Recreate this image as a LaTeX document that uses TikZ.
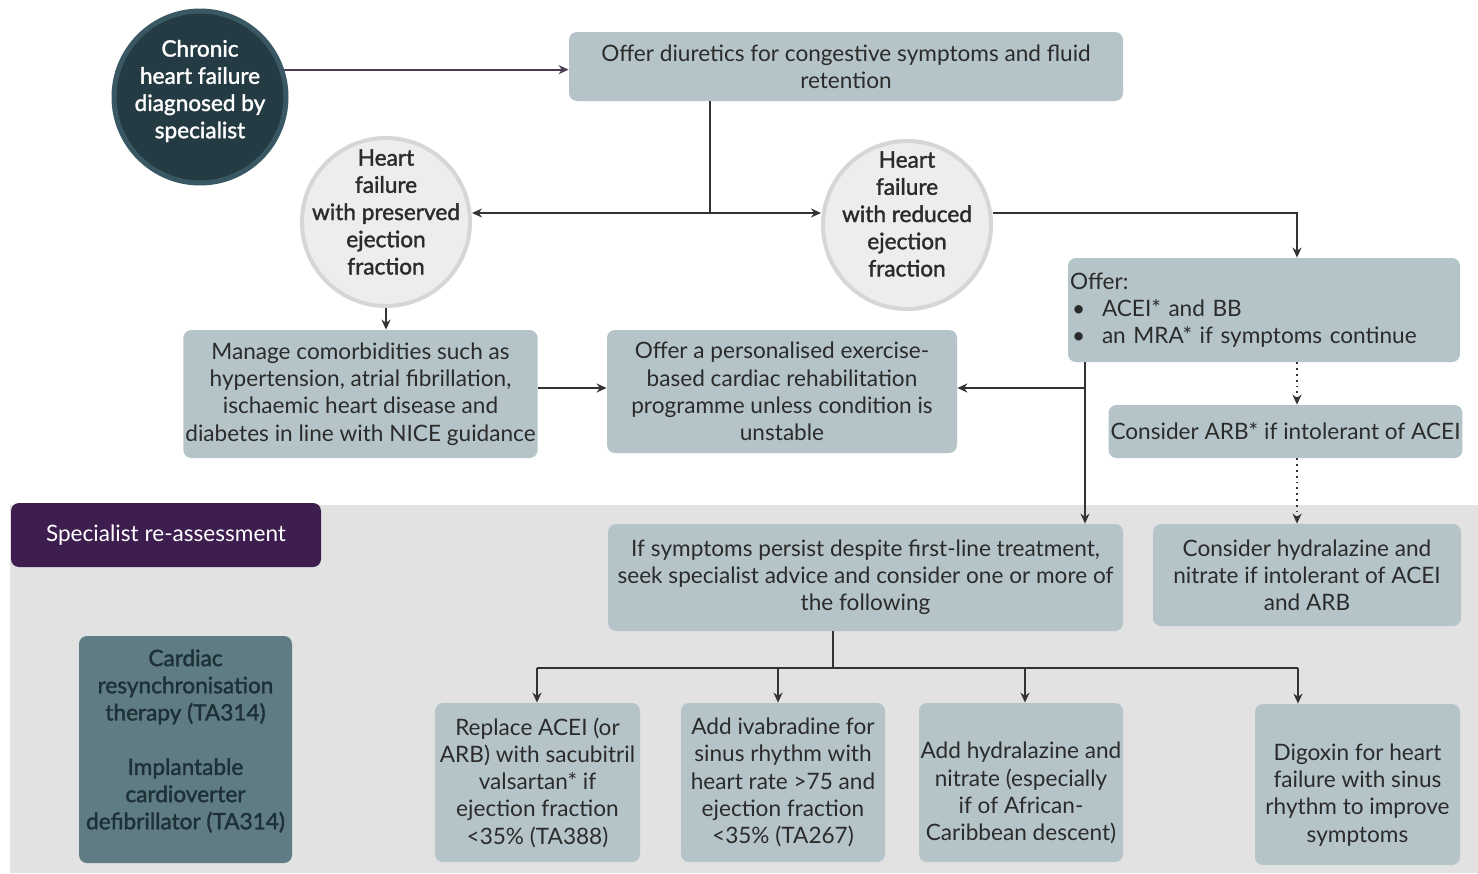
\documentclass[tikz,border=0pt]{standalone}
\usepackage{fontspec}
\setmainfont{Lato}
\newfontfamily\semib[FakeBold=1.6]{Lato}
\usetikzlibrary{arrows.meta}
\definecolor{boxfill}{HTML}{B5C4C9}
\definecolor{txt}{HTML}{2B2B2B}
\definecolor{linec}{HTML}{333333}
\definecolor{darkc}{HTML}{253B44}
\definecolor{darkb}{HTML}{3A5863}
\definecolor{lightc}{HTML}{EDEDED}
\definecolor{lightb}{HTML}{D6D6D6}
\definecolor{purp}{HTML}{3D1E4F}
\definecolor{bandc}{HTML}{E2E2E2}
\definecolor{tealbox}{HTML}{5F7C84}
\definecolor{tealtxt}{HTML}{1D3036}
\definecolor{purpline}{HTML}{4A3C57}
\tikzset{
  box/.style={rectangle, rounded corners=4pt, fill=boxfill, text=txt, align=center, inner sep=1pt,
    font=\fontsize{11.3}{13.6}\selectfont},
  plain/.style={align=center, inner sep=0pt, font=\fontsize{11.3}{13.6}\selectfont},
  circd/.style={circle, fill=darkc, draw=darkb, line width=2.5pt, minimum size=86pt, inner sep=0pt},
  circl/.style={circle, fill=lightc, draw=lightb, line width=2pt, minimum size=84pt, inner sep=0pt},
  ctext/.style={plain, font=\fontsize{11.3}{13.6}\semib},
  conn/.style={draw=linec, line width=0.9pt},
  arr/.style={conn, -{Stealth[length=5pt,width=4.5pt]}},
  darr/.style={arr, dotted},
}
\begin{document}
\begin{tikzpicture}[x=0.5pt,y=-0.5pt]
\useasboundingbox (0,0) rectangle (1478,873);
\fill[white] (0,0) rectangle (1478,873);
\fill[bandc] (10,505) rectangle (1478,873);

% circles
\node[circd] (chr) at (200,97) {};
\node[ctext, text=white] (chrt) at (200,91) {Chronic\\heart failure\\diagnosed by\\specialist};
\node[circl] (hfp) at (386,222) {};
\node[ctext, text=txt] (hfpt) at (386,212) {Heart\\failure\\with preserved\\ejection\\fraction};
\node[circl] (hfr) at (907,225) {};
\node[ctext, text=txt] (hfrt) at (907,214) {Heart\\failure\\with reduced\\ejection\\fraction};

% boxes
\node[box, minimum width=277pt, minimum height=34.5pt] (dbox) at (846,66.5)
  {Offer diuretics for congestive symptoms and fluid\\retention};
\node[box, minimum width=196pt, minimum height=52pt, text width=194pt, align=left] (offer) at (1264,310)
  {Offer:\\\makebox[16pt][l]{\hspace{1pt}\textbullet}ACEI* and BB\\\makebox[16pt][l]{\hspace{1pt}\textbullet}an MRA* if symptoms continue};
\node[box, minimum width=174.5pt, minimum height=26.5pt] (arb) at (1285.5,431.5)
  {Consider ARB* if intolerant of ACEI};
\node[box, minimum width=154pt, minimum height=51pt] (hyd) at (1307,575)
  {Consider hydralazine and\\nitrate if intolerant of ACEI\\and ARB};
\node[box, minimum width=176.5pt, minimum height=64pt] (man) at (360.5,394)
  {Manage comorbidities such as\\hypertension, atrial fibrillation,\\ischaemic heart disease and\\diabetes in line with NICE guidance};
\node[box, minimum width=175pt, minimum height=61.5pt] (ex) at (782,391.5)
  {Offer a personalised exercise-\\based cardiac rehabilitation\\programme unless condition is\\unstable};
\node[box, minimum width=257.5pt, minimum height=53.5pt] (ifs) at (865.5,577.5)
  {If symptoms persist despite first-line treatment,\\seek specialist advice and consider one or more of\\the following};
\node[box, minimum width=102.5pt, minimum height=79.5pt] (rep) at (537.5,782.5)
  {Replace ACEI (or\\ARB) with sacubitril\\valsartan* if\\ejection fraction\\<35\% (TA388)};
\node[box, minimum width=102pt, minimum height=79.5pt] (iva) at (783,782.5)
  {Add ivabradine for\\sinus rhythm with\\heart rate >75 and\\ejection fraction\\<35\% (TA267)};
\node[box, minimum width=102pt, minimum height=79.5pt] (hni) at (1021,782.5) {};
\node[plain, text=txt] (hnit) at (1021,793)
  {Add hydralazine and\\nitrate (especially\\if of African-\\Caribbean descent)};
\node[box, minimum width=102.5pt, minimum height=80.5pt] (dig) at (1357.5,784.5) {};
\node[plain, text=txt] (digt) at (1357.5,795)
  {Digoxin for heart\\failure with sinus\\rhythm to improve\\symptoms};
\node[box, fill=tealbox, minimum width=106.5pt, minimum height=113.5pt] (crt) at (185.5,749.5) {};
\node[ctext, text=tealtxt] (crtt) at (185.5,741)
  {Cardiac\\resynchronisation\\therapy (TA314)\\[13.6pt]Implantable\\cardioverter\\defibrillator (TA314)};
\node[box, fill=purp, text=white, minimum width=155pt, minimum height=32pt] (spec) at (166,535)
  {Specialist re-assessment};

% coordinates
\coordinate (j1) at (710,213);
\coordinate (c2) at (1297,213);
\coordinate (c3) at (1085,388);
\coordinate (c4) at (833,668);
\coordinate (a1) at (537,668);
\coordinate (a2) at (778,668);
\coordinate (a3) at (1025,668);
\coordinate (a4) at (1298,668);

% connectors
\draw[arr, draw=purpline] (chr.18) -- (chr.18 -| dbox.west);
\draw[conn] (dbox.south -| j1) -- (j1);
\draw[arr] (j1) -- (j1 -| hfp.east);
\draw[arr] (j1) -- (j1 -| hfr.west);
\draw[arr] (j1 -| hfr.east) -- (c2) -- (c2 |- offer.north);
\draw[darr] (offer.south -| c2) -- (arb.north -| c2);
\draw[darr] (arb.south -| c2) -- (hyd.north -| c2);
\draw[arr] (offer.south -| c3) -- (ifs.north -| c3);
\draw[arr] (c3) -- (c3 -| ex.east);
\draw[arr] (hfp.south) -- (hfp.south |- man.north);
\draw[arr] (man.east |- c3) -- (ex.west |- c3);
\draw[conn] (ifs.south -| c4) -- (c4);
\draw[conn] (a1) -- (a4);
\draw[arr] (a1) -- (a1 |- rep.north);
\draw[arr] (a2) -- (a2 |- iva.north);
\draw[arr] (a3) -- (a3 |- hni.north);
\draw[arr] (a4) -- (a4 |- dig.north);
\end{tikzpicture}
\end{document}
